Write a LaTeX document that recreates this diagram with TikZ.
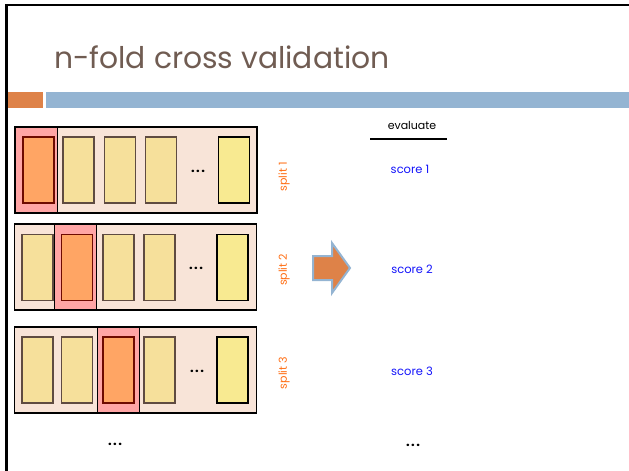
\documentclass[tikz,border=0pt]{standalone}
\usepackage{fontspec}
\setmainfont{Poppins}
\definecolor{titlegray}{RGB}{112,92,82}
\definecolor{barorange}{RGB}{222,130,72}
\definecolor{barblue}{RGB}{148,180,210}
\definecolor{splitfill}{RGB}{248,228,216}
\definecolor{testcol}{RGB}{255,165,165}
\definecolor{testfill}{RGB}{255,165,100}
\definecolor{testline}{RGB}{110,10,0}
\definecolor{foldfill}{RGB}{246,224,155}
\definecolor{foldline}{RGB}{95,75,65}
\definecolor{lastfill}{RGB}{248,234,145}
\definecolor{splitorange}{RGB}{255,110,20}
\definecolor{scoreblue}{RGB}{20,20,250}

\begin{document}
\begin{tikzpicture}[x=1pt,y=-1pt,
  splitbox/.style={draw=black, fill=splitfill, line width=1.6pt, minimum width=242pt, minimum height=86pt, inner sep=0pt},
  testcolumn/.style={draw=black, fill=testcol, line width=1.4pt, minimum width=42pt, minimum height=86pt, inner sep=0pt},
  fold/.style={draw=foldline, fill=foldfill, line width=1.4pt, minimum width=31pt, minimum height=66pt, inner sep=0pt},
  testfold/.style={fold, draw=testline, fill=testfill},
  lastfold/.style={fold, draw=black, fill=lastfill},
  dotstext/.style={font=\fontsize{13}{15}\selectfont\bfseries, text=black, inner sep=0pt},
  splittext/.style={rotate=90, text=splitorange, font=\fontsize{11}{13}\selectfont},
  scoretext/.style={text=scoreblue, font=\fontsize{11.5}{14}\selectfont}]
  \useasboundingbox (0,0) rectangle (629,471);
  % Slide frame and title
  \draw[line width=2.5pt] (6.5,471) -- (6.5,5) -- (629,5);
  \fill[barorange] (8,92) rectangle (43,108);
  \fill[barblue] (46,92) rectangle (629,108);
  \node[anchor=base west, text=titlegray, font=\fontsize{29.8}{34}\selectfont, inner sep=0pt] (title) at (54,68) {n-fold cross validation};

  % Split 1
  \node[splitbox] (row1) at (136,170) {};
  \node[testcolumn] (col1) at (36.5,170) {};
  \node[testfold] (f11) at (38.5,170) {};
  \node[fold] (f12) at (78.5,170) {};
  \node[fold] (f13) at (120,170) {};
  \node[fold] (f14) at (161,170) {};
  \node[dotstext] (d1) at (198,171) {.\kern1.5pt.\kern1.5pt.};
  \node[lastfold] (f15) at (234,170) {};
  \node[splittext] (split1) at (284,177) {split 1};

  % Split 2
  \node[splitbox] (row2) at (135.5,267) {};
  \node[testcolumn] (col2) at (75.5,267) {};
  \node[fold] (f21) at (37.5,267.5) {};
  \node[testfold] (f22) at (77,267.5) {};
  \node[fold] (f23) at (118.5,267.5) {};
  \node[fold] (f24) at (159.5,267.5) {};
  \node[dotstext] (d2) at (196,268) {.\kern1.5pt.\kern1.5pt.};
  \node[lastfold] (f25) at (232.5,267.5) {};
  \node[splittext] (split2) at (284,270) {split 2};

  % Split 3
  \node[splitbox] (row3) at (135.5,370) {};
  \node[testcolumn] (col3) at (118.5,370) {};
  \node[fold] (f31) at (37.5,370) {};
  \node[fold] (f32) at (77,370) {};
  \node[testfold] (f33) at (118.5,370) {};
  \node[fold] (f34) at (159.5,370) {};
  \node[dotstext] (d3) at (197,371) {.\kern1.5pt.\kern1.5pt.};
  \node[lastfold] (f35) at (232.5,370) {};
  \node[splittext] (split3) at (284,373) {split 3};

  % Arrow
  \draw[draw=barblue, fill=barorange, line width=2pt, line join=miter]
    (313,256) -- (332,256) -- (332,243) -- (350,268) -- (332,293) -- (332,280) -- (313,280) -- cycle;

  % Evaluate column
  \node[font=\fontsize{11}{13}\selectfont] (evaluate) at (412,125) {evaluate};
  \draw[line width=2pt] (370,139) -- (447,139);
  \node[scoretext] (score1) at (410,169) {score 1};
  \node[scoretext] (score2) at (412,269) {score 2};
  \node[scoretext] (score3) at (412,371) {score 3};

  % More splits
  \node[dotstext] (more) at (115,444) {.\kern1.5pt.\kern1.5pt.};
  \node[dotstext] (morescore) at (413,445) {.\kern1.5pt.\kern1.5pt.};
\end{tikzpicture}
\end{document}
